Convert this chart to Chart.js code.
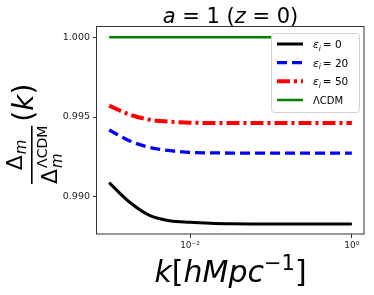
<!DOCTYPE html>
<html><head><meta charset="utf-8">
<script src="https://cdn.jsdelivr.net/npm/chart.js@4"></script>
<style>html,body{margin:0;padding:0;background:#fff}</style>
</head><body>
<canvas id="c" width="374" height="295"></canvas>
<script>
// ---- data ----
const kValues = [0.001, 0.00178, 0.00316, 0.00562, 0.01, 0.0178, 0.0316, 0.0562, 0.1, 0.316, 1];
const eps0  = [0.99088, 0.98967, 0.98883, 0.98849, 0.98839, 0.98833, 0.98830, 0.98829, 0.98829, 0.98829, 0.98829];
const eps20 = [0.99418, 0.99351, 0.99309, 0.99289, 0.99278, 0.99275, 0.99274, 0.99273, 0.99273, 0.99273, 0.99273];
const eps50 = [0.99571, 0.99516, 0.99483, 0.99471, 0.99464, 0.99463, 0.99462, 0.99462, 0.99462, 0.99462, 0.99462];
const lcdm  = [1, 1, 1, 1, 1, 1, 1, 1, 1, 1, 1];
const epsLabels = ['0', '20', '50'];
const lcdmLabel = 'ΛCDM';
const yTicks = [0.990, 0.995, 1.000];
const xTicks = [0.01, 1];
const xTickLabels = ['10⁻²', '10⁰'];

const FF = '"DejaVu Sans", "Liberation Sans", sans-serif';
const pts = arr => kValues.map((k, i) => ({x: k, y: arr[i]}));

const styles = [
  {color: '#000000', width: 3, dash: []},
  {color: '#0000ff', width: 3.3, dash: [10, 5]},
  {color: '#ff0000', width: 4, dash: [13, 4, 3, 4]},
  {color: '#008000', width: 2.5, dash: []}
];
const seriesData = [eps0, eps20, eps50, lcdm];

function richWidth(ctx, pieces) {
  let w = 0;
  for (const p of pieces) { ctx.font = p.font; w += ctx.measureText(p.t).width + (p.gap || 0); }
  return w;
}
function drawRich(ctx, pieces, x, y) {
  for (const p of pieces) {
    ctx.font = p.font;
    ctx.fillText(p.t, x, y + (p.dy || 0));
    x += ctx.measureText(p.t).width + (p.gap || 0);
  }
  return x;
}

const overlay = {
  id: 'overlay',
  afterDraw(chart) {
    const ctx = chart.ctx, ca = chart.chartArea;
    ctx.save();
    // frame
    ctx.strokeStyle = '#333';
    ctx.lineWidth = 1;
    ctx.setLineDash([]);
    ctx.strokeRect(Math.round(ca.left) - 0.5, Math.round(ca.top) + 0.5, Math.round(ca.right - ca.left) + 0.5, Math.round(ca.bottom - ca.top) - 0.5);

    // legend
    const lx = 271, ly = 33, lw = 88, lh = 79;
    ctx.beginPath();
    ctx.roundRect(lx + 0.5, ly + 0.5, lw, lh, 3);
    ctx.fillStyle = '#fff';
    ctx.fill();
    ctx.strokeStyle = '#d0d0d0';
    ctx.lineWidth = 1;
    ctx.stroke();
    const rowY = [44, 62.7, 81.3, 100];
    ctx.fillStyle = '#000';
    ctx.textBaseline = 'alphabetic';
    ctx.textAlign = 'left';
    for (let i = 0; i < 4; i++) {
      const s = styles[i];
      ctx.beginPath();
      ctx.strokeStyle = s.color;
      ctx.lineWidth = s.width;
      ctx.setLineDash(s.dash);
      ctx.moveTo(277, rowY[i]);
      ctx.lineTo(303, rowY[i]);
      ctx.stroke();
      ctx.setLineDash([]);
      const base = rowY[i] + 4;
      if (i < 3) {
        drawRich(ctx, [
          {t: 'ε', font: `italic 10.5px ${FF}`},
          {t: 'i', font: `italic 7.5px ${FF}`, dy: 2.5, gap: 2},
          {t: '= ' + epsLabels[i], font: `10.5px ${FF}`}
        ], 313, base);
      } else {
        ctx.font = `10px ${FF}`;
        ctx.fillText(lcdmLabel, 313, base);
      }
    }

    // title
    const tp = [
      {t: 'a', font: `italic 21px ${FF}`},
      {t: ' = 1 (', font: `21px ${FF}`},
      {t: 'z', font: `italic 21px ${FF}`},
      {t: ' = 0)', font: `21px ${FF}`}
    ];
    const cx = (ca.left + ca.right) / 2;
    drawRich(ctx, tp, cx - richWidth(ctx, tp) / 2, 23);

    // x label
    const xp = [
      {t: 'k', font: `italic 30px ${FF}`},
      {t: '[', font: `30px ${FF}`},
      {t: 'hMpc', font: `italic 30px ${FF}`},
      {t: '−1', font: `21px ${FF}`, dy: -12},
      {t: ']', font: `30px ${FF}`}
    ];
    drawRich(ctx, xp, cx - richWidth(ctx, xp) / 2, 282);

    // y label (rotated)
    ctx.translate(0, 0);
    ctx.rotate(-Math.PI / 2);
    // fraction from screen y 183 (fx=-183) up to 123
    const fracStart = -184;
    const denom = [
      {t: 'Δ', font: `22px ${FF}`}
    ];
    ctx.font = `22px ${FF}`;
    const dW = ctx.measureText('Δ').width;
    ctx.font = `italic 15px ${FF}`;
    const smW = ctx.measureText('m').width;
    ctx.font = `14px ${FF}`;
    const supW = ctx.measureText('ΛCDM').width;
    const denW = dW + Math.max(smW, supW) + 1;
    const numW = dW + smW + 1;
    // denominator
    ctx.font = `22px ${FF}`;
    ctx.fillText('Δ', fracStart, 57);
    ctx.font = `14px ${FF}`;
    ctx.fillText('ΛCDM', fracStart + dW + 1, 47);
    ctx.font = `italic 15px ${FF}`;
    ctx.fillText('m', fracStart + dW + 1, 62);
    // numerator
    const nx = fracStart + (denW - numW) / 2;
    ctx.font = `22px ${FF}`;
    ctx.fillText('Δ', nx, 22);
    ctx.font = `italic 15px ${FF}`;
    ctx.fillText('m', nx + dW + 1, 26);
    // bar
    ctx.fillRect(fracStart, 31, denW, 1.6);
    // (k)
    drawRich(ctx, [
      {t: '(', font: `28px ${FF}`},
      {t: 'k', font: `italic 28px ${FF}`},
      {t: ')', font: `28px ${FF}`}
    ], fracStart + denW + 4, 33);
    ctx.restore();
  }
};

new Chart(document.getElementById('c'), {
  type: 'line',
  data: {
    datasets: seriesData.map((arr, i) => ({
      data: pts(arr),
      borderColor: styles[i].color,
      borderWidth: styles[i].width,
      borderDash: styles[i].dash,
      pointRadius: 0,
      fill: false,
      cubicInterpolationMode: 'monotone',
      order: 4 - i
    }))
  },
  options: {
    responsive: false,
    animation: false,
    devicePixelRatio: 1,
    layout: {padding: {top: 26, right: 10, left: 0, bottom: 0}},
    plugins: {legend: {display: false}, title: {display: false}, tooltip: {enabled: false}},
    scales: {
      x: {
        type: 'logarithmic',
        min: Math.pow(10, -3.15),
        max: Math.pow(10, 0.15),
        afterBuildTicks: s => { s.ticks = xTicks.map(v => ({value: v})); },
        afterFit: s => { s.height = 61; },
        ticks: {
          callback: v => { const i = xTicks.indexOf(v); return i >= 0 ? xTickLabels[i] : ''; },
          font: {family: FF, size: 9},
          color: '#222', padding: 2, maxRotation: 0, autoSkip: false
        },
        grid: {drawOnChartArea: false, tickLength: 4, color: '#333'},
        border: {display: false}
      },
      y: {
        type: 'linear',
        min: 0.98766,
        max: 1.00071,
        afterBuildTicks: s => { s.ticks = yTicks.map(v => ({value: v})); },
        afterFit: s => { s.width = 97; },
        ticks: {
          callback: v => Number(v).toFixed(3),
          font: {family: FF, size: 9.5},
          color: '#222', padding: 3, autoSkip: false
        },
        grid: {drawOnChartArea: false, tickLength: 4, color: '#333'},
        border: {display: false}
      }
    }
  },
  plugins: [overlay]
});
</script>
</body></html>
